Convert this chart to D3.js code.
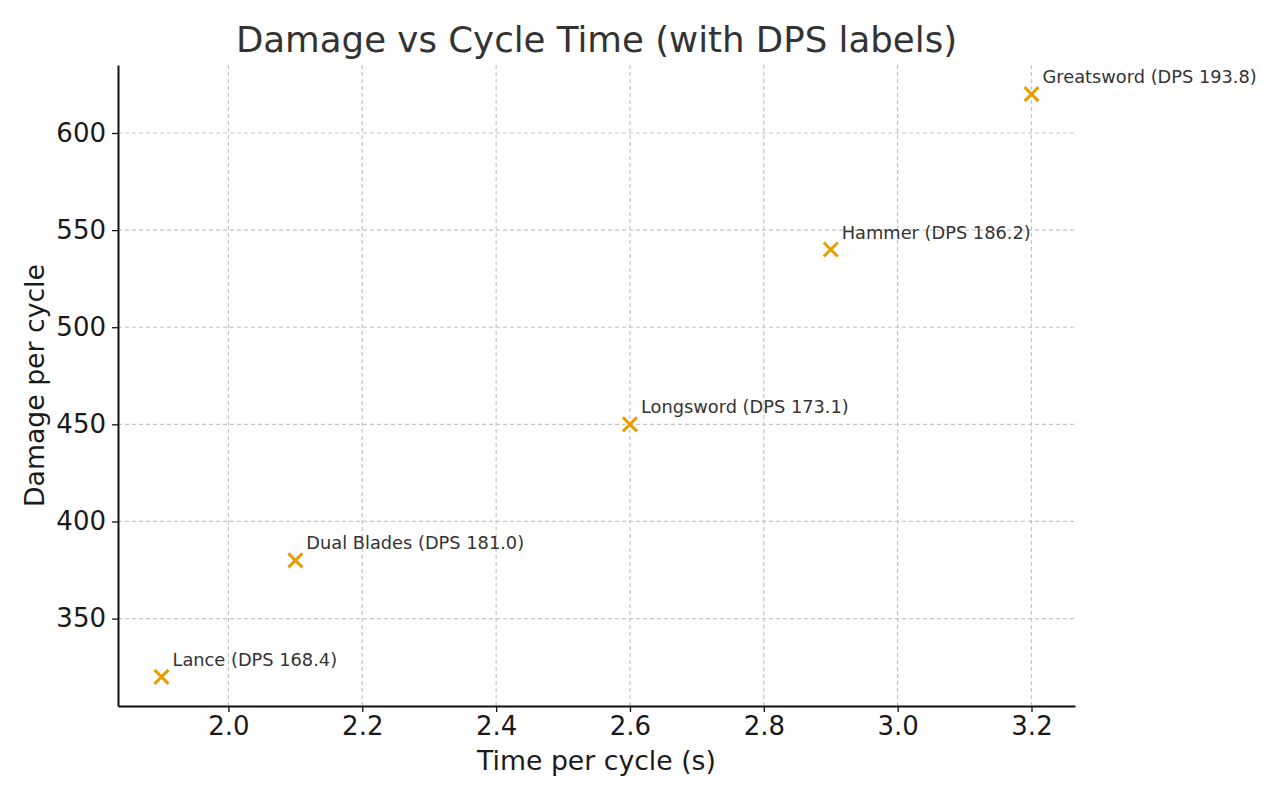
<!DOCTYPE html>
<html>
<head>
<meta charset="utf-8">
<script src="https://cdn.jsdelivr.net/npm/d3@7"></script>
<style>
  body { margin: 0; background: #fff; }
  text { font-family: "DejaVu Sans", sans-serif; }
</style>
</head>
<body>
<div id="chart-area"></div>
<script>
// data
var weapons = ["Lance", "Dual Blades", "Longsword", "Hammer", "Greatsword"];
var cycleTime = [1.9, 2.1, 2.6, 2.9, 3.2];
var damage = [320, 380, 450, 540, 620];
var dps = ["168.4", "181.0", "173.1", "186.2", "193.8"];
var xTicks = [2.0, 2.2, 2.4, 2.6, 2.8, 3.0, 3.2];
var yTicks = [350, 400, 450, 500, 550, 600];

var margin = {left: 118, right: 205, top: 65, bottom: 94};
var width = 1280 - margin.left - margin.right,
    height = 800 - margin.top - margin.bottom;

var svg = d3.select("#chart-area")
  .append("svg")
    .attr("width", 1280)
    .attr("height", 800)
  .append("g")
    .attr("transform", "translate(" + margin.left + "," + margin.top + ")");

var x = d3.scaleLinear().domain([1.835, 3.265]).range([0, width]);
var y = d3.scaleLinear().domain([305, 635]).range([height, 0]);

// grid
svg.append("g").selectAll("line").data(xTicks).enter().append("line")
    .attr("x1", function(d) { return x(d); })
    .attr("x2", function(d) { return x(d); })
    .attr("y1", 0).attr("y2", height)
    .attr("stroke", "#c4c4c4").attr("stroke-width", 1.2)
    .attr("stroke-dasharray", "4,3");
svg.append("g").selectAll("line").data(yTicks).enter().append("line")
    .attr("y1", function(d) { return y(d); })
    .attr("y2", function(d) { return y(d); })
    .attr("x1", 0).attr("x2", width)
    .attr("stroke", "#c4c4c4").attr("stroke-width", 1.2)
    .attr("stroke-dasharray", "4,3");

// axes
var xAxis = svg.append("g")
  .attr("transform", "translate(0," + height + ")")
  .call(d3.axisBottom(x).tickValues(xTicks).tickFormat(d3.format(".1f")).tickSize(6).tickPadding(5).tickSizeOuter(0));
var yAxis = svg.append("g")
  .call(d3.axisLeft(y).tickValues(yTicks).tickSize(6).tickPadding(6).tickSizeOuter(0));

[xAxis, yAxis].forEach(function(a) {
  a.select(".domain").attr("stroke", "#111").attr("stroke-width", 2);
  a.selectAll(".tick line").attr("stroke", "#111").attr("stroke-width", 1.3);
  a.selectAll(".tick text")
    .attr("font-family", "DejaVu Sans")
    .attr("font-size", "26px")
    .attr("fill", "#1a1a1a");
});

// markers
var pts = weapons.map(function(w, i) {
  return {name: w, t: cycleTime[i], d: damage[i], dps: dps[i]};
});
var s = 7;
svg.append("g").selectAll("path").data(pts).enter().append("path")
    .attr("d", function(p) {
      var cx = x(p.t), cy = y(p.d);
      return "M" + (cx - s) + "," + (cy - s) + "L" + (cx + s) + "," + (cy + s) +
             "M" + (cx - s) + "," + (cy + s) + "L" + (cx + s) + "," + (cy - s);
    })
    .attr("stroke", "#E69F00")
    .attr("stroke-width", 3)
    .attr("fill", "none");

// labels
svg.append("g").selectAll("text").data(pts).enter().append("text")
    .attr("x", function(p) { return x(p.t) + 11; })
    .attr("y", function(p) { return y(p.d) - 11; })
    .attr("font-size", "17.8px")
    .attr("fill", "#333")
    .text(function(p) { return p.name + " (DPS " + p.dps + ")"; });

// titles
svg.append("text")
    .attr("x", width / 2).attr("y", -13)
    .attr("text-anchor", "middle")
    .attr("font-size", "35.6px")
    .attr("fill", "#333")
    .text("Damage vs Cycle Time (with DPS labels)");

svg.append("text")
    .attr("x", width / 2).attr("y", height + 64)
    .attr("text-anchor", "middle")
    .attr("font-size", "26.7px")
    .attr("fill", "#1a1a1a")
    .text("Time per cycle (s)");

svg.append("text")
    .attr("transform", "rotate(-90)")
    .attr("x", -height / 2).attr("y", -74)
    .attr("text-anchor", "middle")
    .attr("font-size", "26.7px")
    .attr("fill", "#1a1a1a")
    .text("Damage per cycle");
</script>
</body>
</html>
